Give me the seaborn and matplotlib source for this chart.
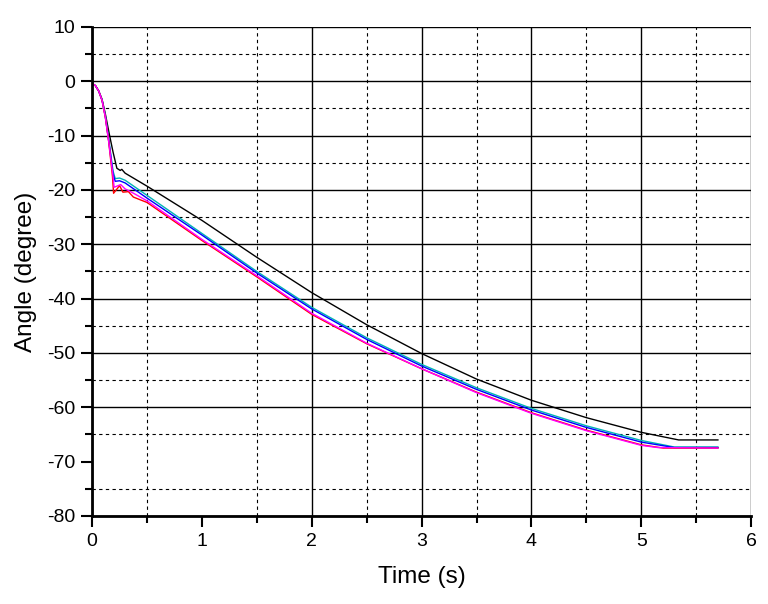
import matplotlib
matplotlib.use("Agg")
import matplotlib.pyplot as plt
from matplotlib.ticker import MultipleLocator
import seaborn as sns
import pandas as pd

# ---- data ----
t_black = [0, 0.03, 0.06, 0.09, 0.12, 0.155, 0.19, 0.225, 0.255, 0.27, 0.3, 0.5, 1.0, 1.5, 2.0, 2.5, 3.0, 3.5, 4.0, 4.5, 5.0, 5.34, 5.7]
y_black = [-0.4, -0.8, -1.8, -3.3, -6.0, -9.6, -13.0, -16.0, -16.4, -16.2, -16.9, -19.3, -25.6, -32.4, -38.9, -44.8, -50.1, -54.8, -58.7, -61.9, -64.6, -66.0, -66.0]

t_cyan = [0, 0.03, 0.06, 0.09, 0.12, 0.15, 0.19, 0.21, 0.25, 0.3, 0.5, 1.0, 1.5, 2.0, 2.5, 3.0, 3.5, 4.0, 4.5, 5.0, 5.3, 5.7]
y_cyan = [-0.4, -0.8, -1.8, -3.4, -6.3, -10.5, -16.5, -17.9, -17.8, -18.2, -21.0, -28.0, -35.0, -41.6, -47.2, -52.1, -56.4, -60.2, -63.4, -66.1, -67.3, -67.3]

t_blue = [0, 0.03, 0.06, 0.09, 0.12, 0.15, 0.19, 0.21, 0.25, 0.3, 0.5, 1.0, 1.5, 2.0, 2.5, 3.0, 3.5, 4.0, 4.5, 5.0, 5.3, 5.7]
y_blue = [-0.4, -0.8, -1.8, -3.5, -6.5, -10.8, -17.0, -18.4, -18.3, -18.7, -21.5, -28.3, -35.3, -41.9, -47.5, -52.4, -56.7, -60.5, -63.7, -66.4, -67.4, -67.4]

t_magenta = [0, 0.03, 0.06, 0.09, 0.12, 0.15, 0.19, 0.2, 0.26, 0.3, 0.35, 0.5, 1.0, 1.5, 2.0, 2.5, 3.0, 3.5, 4.0, 4.5, 5.0, 5.15, 5.7]
y_magenta = [-0.4, -0.8, -1.8, -3.5, -6.6, -11.0, -17.5, -19.5, -19.0, -19.8, -20.3, -22.0, -29.1, -35.8, -42.7, -48.2, -52.9, -57.3, -61.1, -64.3, -67.0, -67.4, -67.5]

t_red = [0, 0.03, 0.06, 0.09, 0.12, 0.15, 0.185, 0.195, 0.25, 0.28, 0.33, 0.375, 0.5, 1.0, 1.5, 2.0, 2.5, 3.0, 3.5, 4.0, 4.5, 5.0, 5.2, 5.7]
y_red = [-0.4, -0.8, -1.8, -3.5, -6.6, -11.0, -17.5, -20.6, -19.2, -20.4, -20.3, -21.3, -22.3, -29.3, -36.0, -42.9, -48.3, -52.9, -57.2, -61.0, -64.2, -66.9, -67.5, -67.5]

series = [
    ("black", t_black, y_black, "#000000"),
    ("cyan", t_cyan, y_cyan, "#00b4b4"),
    ("blue", t_blue, y_blue, "#0000ff"),
    ("red", t_red, y_red, "#ff0000"),
    ("magenta", t_magenta, y_magenta, "#ff00ff"),
]

x_ticks = [0, 1, 2, 3, 4, 5, 6]
y_ticks = [10, 0, -10, -20, -30, -40, -50, -60, -70, -80]

sns.set_style("white")
plt.rcParams['font.family'] = ['Liberation Sans', 'DejaVu Sans']
plt.rcParams['axes.unicode_minus'] = False

fig = plt.figure(figsize=(7.68, 6.04), dpi=100)
ax = fig.add_axes([0.12, 0.1457, 0.858, 0.8096])

for name, t, y, c in series:
    df = pd.DataFrame({"t": t, "y": y})
    sns.lineplot(data=df, x="t", y="y", ax=ax, color=c, linewidth=1.0,
                 estimator=None, sort=False)

ax.set_xlim(0, 6)
ax.set_ylim(-80, 10)
ax.set_xticks(x_ticks)
ax.set_yticks(y_ticks)
ax.xaxis.set_minor_locator(MultipleLocator(0.5))
ax.yaxis.set_minor_locator(MultipleLocator(5))

ax.grid(True, which="major", color="black", linestyle="-", linewidth=1.0)
ax.grid(True, which="minor", color="black", linestyle=(0, (3, 3)), linewidth=0.8)
ax.set_axisbelow(True)
for tk in ax.yaxis.get_major_ticks():
    if tk.get_loc() == 10:
        tk.gridline.set_visible(False)
for tk in ax.xaxis.get_major_ticks():
    if tk.get_loc() in (0, 6):
        tk.gridline.set_visible(False)

for s in ["top", "right"]:
    ax.spines[s].set_visible(False)
for s in ["left", "bottom"]:
    ax.spines[s].set_linewidth(2.0)
    ax.spines[s].set_color("black")

ax.tick_params(which="major", direction="out", length=8, width=1.5, labelsize=14, colors="black",
               labelcolor="black", pad=4, left=True, bottom=True)
ax.tick_params(which="minor", direction="out", length=5, width=1.5, colors="black", left=True, bottom=True)

ax.set_xlabel("Time (s)", fontsize=17.5, labelpad=12, color="black")
ax.set_ylabel("Angle (degree)", fontsize=17.5, labelpad=7, color="black")

fig.savefig("out.png", dpi=100, facecolor="white")
